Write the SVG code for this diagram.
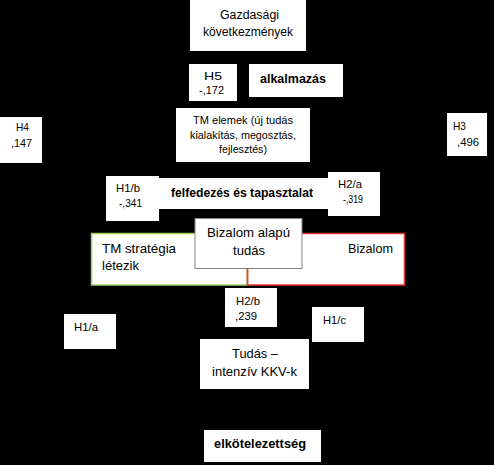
<svg xmlns="http://www.w3.org/2000/svg" width="494" height="465" viewBox="0 0 494 465">
<style>
text{font-family:"Liberation Sans",Arial,sans-serif;fill:#000;}
.n{font-size:12.5px;}
.s{font-size:11px;}
.m{font-size:13.5px;}
.b{font-size:13px;font-weight:bold;}
.box{fill:#fff;stroke:none;}
</style>
<rect x="0" y="0" width="494" height="465" fill="#000"/>
<g id="connectors">
</g>
<g id="gazdasagi">
<rect class="box" x="190" y="0" width="116" height="51"/>
<text class="n" x="220" y="18.5" textLength="59" lengthAdjust="spacingAndGlyphs">Gazdasági</text>
<text class="n" x="203" y="36" textLength="90" lengthAdjust="spacingAndGlyphs">következmények</text>
</g>
<g id="h5">
<rect class="box" x="189" y="64" width="48" height="37"/>
<text class="s" x="204" y="80" textLength="18" lengthAdjust="spacingAndGlyphs">H5</text>
<text class="s" x="199" y="94" textLength="25" lengthAdjust="spacingAndGlyphs">-,172</text>
</g>
<g id="alkalmazas">
<rect class="box" x="249" y="64" width="94" height="33"/>
<text class="b" x="260" y="83" textLength="66" lengthAdjust="spacingAndGlyphs">alkalmazás</text>
</g>
<g id="tm-elemek">
<rect class="box" x="176" y="108" width="134" height="54"/>
<text class="s" x="193" y="124" textLength="100" lengthAdjust="spacingAndGlyphs">TM elemek (új tudás</text>
<text class="s" x="190" y="139" textLength="106" lengthAdjust="spacingAndGlyphs">kialakítás, megosztás,</text>
<text class="s" x="219" y="153" textLength="48" lengthAdjust="spacingAndGlyphs">fejlesztés)</text>
</g>
<g id="h4">
<rect class="box" x="0" y="117" width="42" height="46"/>
<text class="s" x="16" y="131" textLength="13" lengthAdjust="spacingAndGlyphs">H4</text>
<text class="s" x="11" y="147" textLength="21" lengthAdjust="spacingAndGlyphs">,147</text>
</g>
<g id="h3">
<rect class="box" x="447" y="113" width="40" height="43"/>
<text class="s" x="453" y="130" textLength="13" lengthAdjust="spacingAndGlyphs">H3</text>
<text class="s" x="457" y="146" textLength="22" lengthAdjust="spacingAndGlyphs">,496</text>
</g>
<g id="felfedezes">
<rect class="box" x="159" y="178" width="170" height="31"/>
<text class="b" x="171" y="197" textLength="142" lengthAdjust="spacingAndGlyphs">felfedezés és tapasztalat</text>
</g>
<g id="h1b">
<rect class="box" x="106" y="176" width="53" height="45"/>
<text class="s" x="116" y="192" textLength="24" lengthAdjust="spacingAndGlyphs">H1/b</text>
<text class="s" x="119" y="207" textLength="23" lengthAdjust="spacingAndGlyphs">-,341</text>
</g>
<g id="h2a">
<rect class="box" x="328" y="172" width="52" height="44"/>
<text class="s" x="338" y="188" textLength="24" lengthAdjust="spacingAndGlyphs">H2/a</text>
<text class="s" x="343" y="203" textLength="20" lengthAdjust="spacingAndGlyphs">-,319</text>
</g>
<g id="tm-strategia">
<rect x="91.5" y="233.5" width="156" height="51.5" fill="#fff" stroke="#9BCF62" stroke-width="1.5"/>
<text class="m" x="102" y="253" textLength="74" lengthAdjust="spacingAndGlyphs">TM stratégia</text>
<text class="m" x="102" y="270" textLength="37" lengthAdjust="spacingAndGlyphs">létezik</text>
</g>
<g id="bizalom">
<rect x="247.5" y="233.5" width="157" height="51.5" fill="#fff" stroke="#E0342F" stroke-width="1.5"/>
<line x1="247.5" y1="269" x2="247.5" y2="285" stroke="#C8581A" stroke-width="1.5"/>
<text class="m" x="348" y="253" textLength="45" lengthAdjust="spacingAndGlyphs">Bizalom</text>
</g>
<g id="bizalom-alapu">
<rect x="195" y="218.5" width="107" height="50" fill="#fff" stroke="#808080" stroke-width="1"/>
<text class="m" x="207" y="237" textLength="83" lengthAdjust="spacingAndGlyphs">Bizalom alapú</text>
<text class="m" x="233" y="255" textLength="32" lengthAdjust="spacingAndGlyphs">tudás</text>
</g>
<g id="h2b">
<rect class="box" x="225" y="288" width="52" height="39"/>
<text class="s" x="236" y="305" textLength="24" lengthAdjust="spacingAndGlyphs">H2/b</text>
<text class="s" x="235" y="320" textLength="22" lengthAdjust="spacingAndGlyphs">,239</text>
</g>
<g id="h1c">
<rect class="box" x="312" y="307" width="52" height="35"/>
<text class="s" x="323" y="324" textLength="23" lengthAdjust="spacingAndGlyphs">H1/c</text>
</g>
<g id="h1a">
<rect class="box" x="64" y="314" width="52" height="35"/>
<text class="s" x="74" y="331" textLength="24" lengthAdjust="spacingAndGlyphs">H1/a</text>
</g>
<g id="tudas-kkv">
<rect class="box" x="200" y="339" width="109" height="50"/>
<text class="m" x="232" y="358" textLength="46" lengthAdjust="spacingAndGlyphs">Tudás –</text>
<text class="m" x="212" y="376" textLength="85" lengthAdjust="spacingAndGlyphs">intenzív KKV-k</text>
</g>
<g id="elkotelezettseg">
<rect class="box" x="204" y="430" width="117" height="32"/>
<text class="b" x="214" y="448" textLength="92" lengthAdjust="spacingAndGlyphs">elkötelezettség</text>
</g>
</svg>
